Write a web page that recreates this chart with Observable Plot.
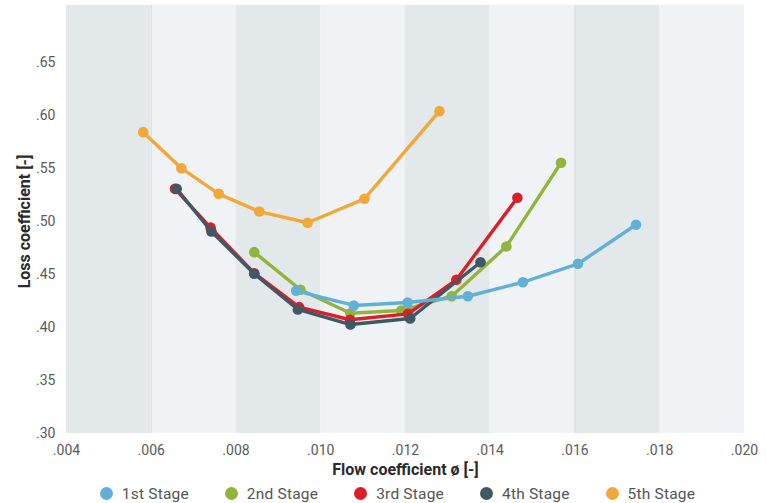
<!DOCTYPE html>
<html>
<head>
<meta charset="utf-8">
<script src="https://cdn.jsdelivr.net/npm/d3@7"></script>
<script src="https://cdn.jsdelivr.net/npm/@observablehq/plot@0.6"></script>
<style>
  html, body { margin: 0; padding: 0; background: #fff; }
  body { width: 767px; height: 503px; overflow: hidden; font-family: Roboto, "DejaVu Sans", sans-serif; }
  #chart svg { display: block; }
  g[aria-label="x-axis label"] text, g[aria-label="y-axis label"] text { font-weight: bold; fill: #2b2b2b; font-size: 16px; }
  .legend { display: flex; justify-content: center; align-items: center; gap: 36px; height: 25px; margin-top: 3px; margin-left: 28px; font-size: 15.5px; color: #555; letter-spacing: 0.2px; }
  .legend span { display: flex; align-items: center; }
  .legend i { display: inline-block; width: 13px; height: 13px; border-radius: 50%; margin-right: 9px; }
</style>
</head>
<body>
<div id="chart"></div>
<div class="legend" id="legend"></div>
<script>
const stages = ["1st Stage", "2nd Stage", "3rd Stage", "4th Stage", "5th Stage"];
const colors = ["#62b0d6", "#93b43c", "#d9202a", "#415764", "#f0a83a"];

const stage1X = [0.00942, 0.01078, 0.01205, 0.01347, 0.01477, 0.01607, 0.01744];
const stage1Y = [0.4346, 0.4208, 0.4236, 0.4295, 0.4427, 0.4601, 0.4969];
const stage2X = [0.00843, 0.00952, 0.01070, 0.01190, 0.01309, 0.01438, 0.01567];
const stage2Y = [0.4711, 0.4356, 0.4135, 0.4160, 0.4295, 0.4764, 0.5554];
const stage3X = [0.00656, 0.00740, 0.00843, 0.00949, 0.01069, 0.01206, 0.01320, 0.01464];
const stage3Y = [0.5308, 0.4943, 0.4512, 0.4192, 0.4073, 0.4129, 0.4450, 0.5224];
const stage4X = [0.00660, 0.00742, 0.00843, 0.00946, 0.01070, 0.01211, 0.01377];
const stage4Y = [0.5308, 0.4906, 0.4507, 0.4170, 0.4028, 0.4085, 0.4616];
const stage5X = [0.00581, 0.00671, 0.00759, 0.00855, 0.00969, 0.01103, 0.01280];
const stage5Y = [0.5843, 0.5503, 0.5261, 0.5094, 0.4988, 0.5214, 0.6041];

const xTicks = [0.004, 0.006, 0.008, 0.010, 0.012, 0.014, 0.016, 0.018, 0.020];
const yTicks = [0.30, 0.35, 0.40, 0.45, 0.50, 0.55, 0.60, 0.65];
const bandStarts = [0.004, 0.006, 0.008, 0.010, 0.012, 0.014, 0.016, 0.018];
const bandFills = ["#e3e8eb", "#eff3f5"];

const seriesX = [stage1X, stage2X, stage3X, stage4X, stage5X];
const seriesY = [stage1Y, stage2Y, stage3Y, stage4Y, stage5Y];
const data = [];
seriesX.forEach((xs, i) => xs.forEach((x, j) => data.push({stage: stages[i], x, y: seriesY[i][j]})));
const bands = bandStarts.map((s, i) => ({x1: s, x2: s + 0.002, fill: bandFills[i % 2]}));

const drawOrder = ["5th Stage", "2nd Stage", "3rd Stage", "4th Stage", "1st Stage"];
const fmtX = d => d3.format(".3f")(d).replace(/^0/, "");
const fmtY = d => d3.format(".2f")(d).replace(/^0/, "");

const marks = [
  Plot.rectY(bands, {x1: "x1", x2: "x2", y1: 0.30, y2: 0.704, fill: "fill"}),
  Plot.ruleX([0.006, 0.016], {y1: 0.30, y2: 0.704, stroke: "#d3dde2", strokeWidth: 1})
];
drawOrder.forEach(s => {
  const c = colors[stages.indexOf(s)];
  const d = data.filter(p => p.stage === s);
  marks.push(Plot.line(d, {x: "x", y: "y", stroke: c, strokeWidth: 3.4}));
  marks.push(Plot.dot(d, {x: "x", y: "y", fill: c, r: 5.3}));
});
marks.push(Plot.axisX({ticks: xTicks, tickFormat: fmtX, tickSize: 0, tickPadding: 12, label: "Flow coefficient ø [-]", labelAnchor: "center", labelArrow: "none", labelOffset: 41, fontSize: 14, fill: "#5a5a5a"}));
marks.push(Plot.axisY({ticks: yTicks, tickFormat: fmtY, tickSize: 0, tickPadding: 11, label: "Loss coefficient [-]", labelAnchor: "center", labelArrow: "none", labelOffset: 48, fontSize: 14, fill: "#5a5a5a"}));

const chart = Plot.plot({
  width: 767,
  height: 478,
  marginLeft: 66,
  marginRight: 23,
  marginTop: 9,
  marginBottom: 45,
  style: {fontFamily: "Roboto, 'DejaVu Sans', sans-serif", fontSize: "14px", background: "transparent"},
  x: {domain: [0.004, 0.020]},
  y: {domain: [0.30, 0.70]},
  color: {type: "identity"},
  marks
});
document.getElementById("chart").appendChild(chart);

const legend = document.getElementById("legend");
stages.forEach((s, i) => {
  const span = document.createElement("span");
  span.innerHTML = `<i style="background:${colors[i]}"></i>${s}`;
  legend.appendChild(span);
});
</script>
</body>
</html>
